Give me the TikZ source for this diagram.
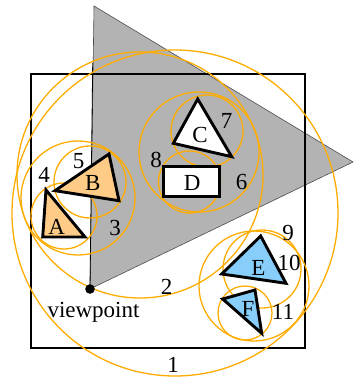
\documentclass[tikz,border=0pt]{standalone}
\usepackage{fontspec}
\setmainfont{Liberation Serif}
\definecolor{bvorange}{RGB}{255,172,0}
\definecolor{peach}{RGB}{255,204,136}
\definecolor{skyb}{RGB}{135,206,250}
\definecolor{frustum}{RGB}{179,179,179}
\tikzset{
  bsphere/.style={draw=bvorange, line width=1.3pt},
  obj/.style={draw=black, line width=2.9pt, line join=miter},
  lbl/.style={inner sep=0pt, font=\fontsize{23}{23}\selectfont}
}
\begin{document}
\begin{tikzpicture}[x=1pt,y=-1pt]
\useasboundingbox (0,0) rectangle (353,377);
% view frustum
\coordinate (vp) at (90,289);
\coordinate (ftop) at (94,6);
\coordinate (fright) at (353,162);
\coordinate (fline) at (92.7,63);
\fill[frustum, draw=black!70, line width=0.6pt] (vp) -- (ftop) -- (fright) -- cycle;
\draw[black, line width=0.8pt] (vp) -- (fline);
% scene box
\draw[black, line width=1.8pt] (31,74) rectangle (305,348);
% bounding spheres
\draw[bsphere] (175,213) circle[radius=163];
\draw[bsphere] (140,175) circle[radius=123];
\draw[bsphere] (78,198) circle[radius=57];
\draw[bsphere] (64,216) circle[radius=33];
\draw[bsphere] (90,182) circle[radius=36];
\draw[bsphere] (199,152) circle[radius=60];
\draw[bsphere] (207,131) circle[radius=36];
\draw[bsphere] (189.5,182) circle[radius=31];
\draw[bsphere] (254,286) circle[radius=55];
\draw[bsphere] (262,269) circle[radius=39];
\draw[bsphere] (245,313) circle[radius=27];
% objects
\filldraw[obj, fill=peach] (46,190) -- (42.7,237) -- (85,237) -- cycle;
\filldraw[obj, fill=peach] (55,190.7) -- (109,154) -- (119,200.7) -- cycle;
\filldraw[obj, fill=white] (197.7,99) -- (173.3,143.3) -- (231.7,156.7) -- cycle;
\filldraw[obj, fill=white] (163.3,166.7) rectangle (219.3,196.7);
\filldraw[obj, fill=skyb] (260.7,236) -- (221.7,274) -- (286,283.3) -- cycle;
\filldraw[obj, fill=skyb] (222.7,299) -- (255,290) -- (261.7,333.3) -- cycle;
% viewpoint
\fill[black] (vp) circle[radius=4.8];
% labels
\node[lbl] (la) at (56.7,227) {A};
\node[lbl] (lb) at (92.7,183) {B};
\node[lbl] (lc) at (200,135) {C};
\node[lbl] (ld) at (192.3,183) {D};
\node[lbl] (le) at (258.3,268) {E};
\node[lbl] (lf) at (248,309) {F};
\node[lbl] (n1) at (173,364.5) {1};
\node[lbl] (n2) at (166.7,286.7) {2};
\node[lbl] (n3) at (115,228) {3};
\node[lbl] (n4) at (44,175) {4};
\node[lbl] (n5) at (78.7,160.7) {5};
\node[lbl] (n6) at (241.7,182) {6};
\node[lbl] (n7) at (226.7,121) {7};
\node[lbl] (n8) at (156,160) {8};
\node[lbl] (n9) at (288,233) {9};
\node[lbl] (n10) at (289,263) {10};
\node[lbl] (n11) at (283,312) {11};
\node[lbl, anchor=base] (vpl) at (93.5,317.5) {viewpoint};
\end{tikzpicture}
\end{document}
